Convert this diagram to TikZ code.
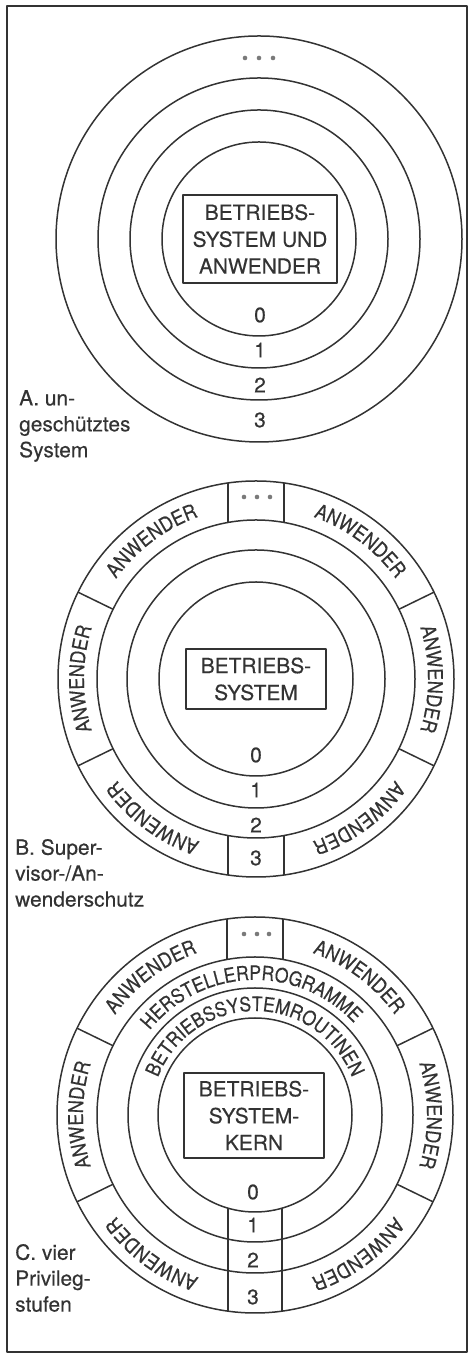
\documentclass[tikz,border=0pt]{standalone}
\usepackage{fontspec}
\setmainfont{TeX Gyre Heros}[FakeBold=0.35]
\newfontfamily\ringfam[FakeStretch=0.88,FakeBold=0.4]{TeX Gyre Heros}
\usetikzlibrary{decorations.text,calc}
\definecolor{ink}{HTML}{333333}
\newcommand\ringfont{\ringfam\fontsize{20.5}{20.5}\selectfont\color{ink}}
\newcommand\innerringfont{\ringfam\fontsize{20}{20}\selectfont\color{ink}}
\begin{document}
\begin{tikzpicture}[x=1bp,y=1bp,line join=round,
  line/.style={draw=ink,line width=1.5bp},
  boxtext/.style={draw=ink,line width=1.5bp,text=ink,font=\fontsize{21}{27}\selectfont,align=center,inner sep=0pt},
  num/.style={text=ink,font=\fontsize{21}{21}\selectfont,inner sep=0pt},
  caption/.style={text=ink,font=\fontsize{21}{26}\selectfont,align=left,anchor=west,inner sep=0pt},
  dot/.style={circle,fill=ink!65,inner sep=0pt,minimum size=4.6bp},
  ringlabel/.style={color=ink,decorate,decoration={text along path,text align=center,text={|\ringfont|#1}}},
  innerlabel/.style={color=ink,decorate,decoration={text along path,text align=center,text={|\innerringfont|#1}}}]
\useasboundingbox (0,0) rectangle (469,1354);
\draw[line] (7,2) rectangle (467,1348);

% ---------- A: unprotected system ----------
\coordinate (cA) at (259,1115);
\foreach \r in {203,161,129,97} \draw[line] (cA) circle[radius=\r];
\node[boxtext,minimum width=154bp,minimum height=88bp] (boxA) at (260,1115) {BETRIEBS-\\SYSTEM UND\\ANWENDER};
\node[num] (A0) at (260,1039) {0};
\node[num] (A1) at (260,1004) {1};
\node[num] (A2) at (260,969) {2};
\node[num] (A3) at (260,934) {3};
\node[dot] (Ad1) at (245,1296) {};
\node[dot] (Ad2) at (259,1296) {};
\node[dot] (Ad3) at (273,1296) {};
\node[caption] (capA) at (19,928) {A. un-\\geschütztes\\System};

% ---------- B: supervisor / user protection ----------
\coordinate (cB) at (256,675);
\foreach \r in {198,159,129,97} \draw[line] (cB) circle[radius=\r];
\draw[line] ($(cB)+(-28,156.5)$) -- ($(cB)+(-28,196)$);
\draw[line] ($(cB)+(28,156.5)$) -- ($(cB)+(28,196)$);
\draw[line] ($(cB)+(-28,-156.5)$) -- ($(cB)+(-28,-196)$);
\draw[line] ($(cB)+(28,-156.5)$) -- ($(cB)+(28,-196)$);
\foreach \a in {26,154,206,334} \draw[line] ($(cB)+(\a:159)$) -- ($(cB)+(\a:198)$);
\foreach \s/\e in {160/94,86/20,30/-30,-20/-87,267/200,210/150}
  \path[ringlabel=ANWENDER] ($(cB)+(\s:172)$) arc[start angle=\s,end angle=\e,radius=172];
\node[boxtext,minimum width=140bp,minimum height=60bp] (boxB) at (256,675) {BETRIEBS-\\SYSTEM};
\node[num] (B0) at (256,599) {0};
\node[num] (B1) at (256,564) {1};
\node[num] (B2) at (256,529) {2};
\node[num] (B3) at (256,496) {3};
\node[dot] (Bd1) at (244,857) {};
\node[dot] (Bd2) at (257,857) {};
\node[dot] (Bd3) at (270,857) {};
\node[caption] (capB) at (15,481) {B. Super-\\visor-/An-\\wenderschutz};

% ---------- C: four privilege levels ----------
\coordinate (cC) at (255,239);
\foreach \r in {198,158,127,97} \draw[line] (cC) circle[radius=\r];
\draw[line] ($(cC)+(-28,155.5)$) -- ($(cC)+(-28,196)$);
\draw[line] ($(cC)+(28,155.5)$) -- ($(cC)+(28,196)$);
\draw[line] ($(cC)+(-27,-93.2)$) -- ($(cC)+(-27,-196.1)$);
\draw[line] ($(cC)+(27,-93.2)$) -- ($(cC)+(27,-196.1)$);
\foreach \a in {26,154,206,334} \draw[line] ($(cC)+(\a:158)$) -- ($(cC)+(\a:198)$);
\foreach \s/\e in {160/94,86/20,30/-30,-20/-87,267/200,210/150}
  \path[ringlabel=ANWENDER] ($(cC)+(\s:172)$) arc[start angle=\s,end angle=\e,radius=172];
\path[innerlabel=HERSTELLERPROGRAMME] ($(cC)+(160:135)$) arc[start angle=160,end angle=24,radius=135];
\path[innerlabel=BETRIEBSSYSTEMROUTINEN] ($(cC)+(170:104)$) arc[start angle=170,end angle=10,radius=104];
\node[boxtext,minimum width=140bp,minimum height=85bp] (boxC) at (254,238.5) {BETRIEBS-\\SYSTEM-\\KERN};
\node[num] (C0) at (253,162) {0};
\node[num] (C1) at (253,129) {1};
\node[num] (C2) at (253,94) {2};
\node[num] (C3) at (253,57) {3};
\node[dot] (Cd1) at (244,420) {};
\node[dot] (Cd2) at (257,420) {};
\node[dot] (Cd3) at (269,420) {};
\node[caption] (capC) at (15,76) {C. vier\\Privileg-\\stufen};
\end{tikzpicture}
\end{document}
